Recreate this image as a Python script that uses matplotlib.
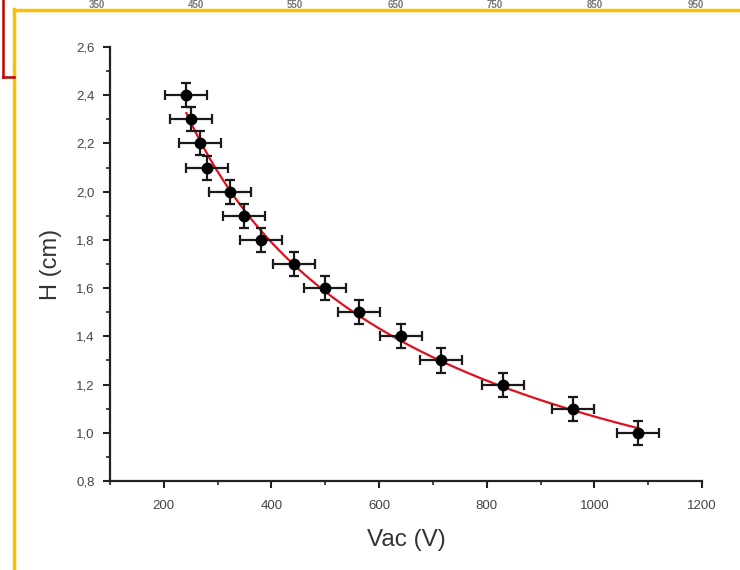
import matplotlib
matplotlib.use("Agg")
import matplotlib.pyplot as plt
from matplotlib.lines import Line2D
from matplotlib.ticker import MultipleLocator, FuncFormatter
import numpy as np

plt.rcParams['font.family'] = ['Liberation Sans', 'DejaVu Sans']

# measured points
vac = [242, 251, 268, 280, 323, 349, 380, 442, 499, 562, 640, 715, 830, 960, 1081]
h = [2.4, 2.3, 2.2, 2.1, 2.0, 1.9, 1.8, 1.7, 1.6, 1.5, 1.4, 1.3, 1.2, 1.1, 1.0]
vac_err = [39] * len(vac)
h_err = [0.05] * len(h)

# cut-off labels of the chart above
top_labels = ["350", "450", "550", "650", "750", "850", "950"]
top_label_x = [97, 196, 295, 396, 495, 595, 696]

W, H = 740, 570
fig = plt.figure(figsize=(7.4, 5.7), dpi=100)
fig.patch.set_facecolor("white")
ax = fig.add_axes([110 / W, 1 - 481 / H, 592 / W, 434 / H])

# fit curve (power law, log-log quadratic)
lv, lh = np.log(vac), np.log(h)
coef = np.polyfit(lv, lh, 2)
xs = np.linspace(min(vac), max(vac), 300)
ax.plot(xs, np.exp(np.polyval(coef, np.log(xs))), color="#e01020", lw=1.6, zorder=2)

ax.errorbar(vac, h, xerr=vac_err, yerr=h_err, fmt="o", color="black", ms=7.5,
            ecolor="#1a1a1a", elinewidth=1.6, capsize=3.5, capthick=1.6, zorder=3)

ax.set_xlim(100, 1200)
ax.set_ylim(0.8, 2.6)
ax.xaxis.set_major_locator(MultipleLocator(200))
ax.xaxis.set_minor_locator(MultipleLocator(100))
ax.yaxis.set_major_locator(MultipleLocator(0.2))
ax.yaxis.set_minor_locator(MultipleLocator(0.1))
ax.yaxis.set_major_formatter(FuncFormatter(lambda v, p: f"{v:.1f}".replace(".", ",")))
ax.xaxis.set_major_formatter(FuncFormatter(lambda v, p: f"{v:.0f}" if v >= 200 else ""))

for s in ["top", "right"]:
    ax.spines[s].set_visible(False)
for s in ["left", "bottom"]:
    ax.spines[s].set_linewidth(1.6)
    ax.spines[s].set_color("#222222")
ax.tick_params(which="major", direction="out", length=5, width=1.5, color="#222222",
               labelsize=9.5, labelcolor="#444444")
ax.tick_params(axis="x", which="major", pad=9)
ax.tick_params(axis="y", which="major", pad=6)
ax.tick_params(which="minor", direction="out", length=3, width=1.2, color="#222222")

ax.set_xlabel("Vac (V)", fontsize=17.5, color="#333333", labelpad=12)
ax.set_ylabel("H (cm)", fontsize=17, color="#333333", labelpad=10)

# frame decorations of the screenshot
yel = "#ffc000"
fig.add_artist(Line2D([14 / W, 14 / W], [0, 1 - 9 / H], color=yel, lw=2.5, transform=fig.transFigure))
fig.add_artist(Line2D([14 / W, 1], [1 - 9.5 / H, 1 - 9.5 / H], color=yel, lw=2.5, transform=fig.transFigure))
red = "#c00000"
fig.add_artist(Line2D([3 / W, 3 / W], [1, 1 - 77 / H], color=red, lw=1.8, transform=fig.transFigure))
fig.add_artist(Line2D([3 / W, 14 / W], [1 - 76.5 / H, 1 - 76.5 / H], color=red, lw=1.8, transform=fig.transFigure))

for lab, px in zip(top_labels, top_label_x):
    fig.text(px / W, 1 - 7.5 / H, lab, ha="center", va="baseline", fontsize=7,
             color="#777777", fontweight="bold")

fig.savefig("out.png", dpi=100)
